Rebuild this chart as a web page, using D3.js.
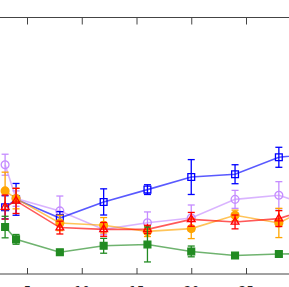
<!DOCTYPE html>
<html>
<head>
<meta charset="utf-8">
<script src="https://cdn.jsdelivr.net/npm/d3@7"></script>
<style>
  body { margin: 0; background: #fff; }
  svg { display: block; }
  .axis path, .axis line { stroke: #444; }
  .axis text { font-family: "DejaVu Sans", sans-serif; font-size: 12px; fill: #222; }
</style>
</head>
<body>
<div id="chart"></div>
<script>
var steps = [3, 4, 8, 12, 16, 20, 24, 28, 32];
var xTicks = [5, 10, 15, 20, 25];

var blueVals   = [26.0, 29.1, 21.8, 28.1, 32.9, 37.8, 38.9, 45.5, 47.2];
var blueErr    = [4.5, 6.2, 2.5, 5.1, 1.9, 6.8, 3.7, 3.9, 4.0];
var purpleVals = [42.6, 29.4, 24.6, 17.4, 20.0, 21.8, 29.1, 30.7, 25.0];
var purpleErr  = [4.1, 3.0, 5.8, 2.0, 4.2, 5.1, 3.5, 5.3, 4.0];
var orangeVals = [32.4, 29.4, 19.9, 19.0, 16.6, 17.7, 22.9, 19.9, 28.5];
var orangeErr  = [7.3, 4.0, 3.0, 3.0, 2.0, 3.9, 2.0, 5.7, 4.0];
var redVals    = [26.1, 28.5, 18.1, 17.4, 17.4, 21.3, 20.3, 21.6, 26.9];
var redErr     = [4.7, 4.9, 2.5, 2.7, 1.6, 2.7, 2.7, 3.1, 3.0];
var greenVals  = [18.3, 13.5, 8.5, 11.0, 11.5, 8.8, 7.2, 7.8, 8.0];
var greenErr   = [4.2, 1.9, 1.0, 2.9, 6.8, 2.1, 1.0, 1.0, 1.0];

var series = [
  {name: "purple", color: "#c58cff", marker: "circle", fill: false, vals: purpleVals, err: purpleErr},
  {name: "blue",   color: "#0000ff", marker: "square", fill: false, vals: blueVals,   err: blueErr},
  {name: "orange", color: "#ffa500", marker: "circle", fill: true,  vals: orangeVals, err: orangeErr},
  {name: "red",    color: "#ff0000", marker: "triangle", fill: false, vals: redVals,  err: redErr},
  {name: "green",  color: "#228b22", marker: "square", fill: true,  vals: greenVals,  err: greenErr}
];

var margin = {top: 17.5, left: -27.75},
    width = 35 * 10.95,
    height = 256.5;

var svg = d3.select("#chart").append("svg")
  .attr("width", 289)
  .attr("height", 287)
  .append("g")
  .attr("transform", "translate(" + margin.left + "," + margin.top + ")");

var x = d3.scaleLinear().domain([0, 35]).range([0, width]);
var y = d3.scaleLinear().domain([0, 100]).range([height, 0]);

// frame
svg.append("rect")
  .attr("x", 0).attr("y", 0)
  .attr("width", width).attr("height", height)
  .attr("fill", "none")
  .attr("stroke", "#444")
  .attr("stroke-width", 1);

svg.append("g")
  .attr("class", "x axis")
  .attr("transform", "translate(0," + height + ")")
  .call(d3.axisBottom(x).tickValues(xTicks).tickSize(-6).tickPadding(12).tickFormat(d3.format("d")))
  .call(g => g.select(".domain").remove());

svg.append("g")
  .attr("class", "x axis")
  .call(d3.axisTop(x).tickValues(xTicks).tickSize(-7).tickFormat(""))
  .call(g => g.select(".domain").remove());

var line = d3.line()
  .x(function(d) { return x(d.step); })
  .y(function(d) { return y(d.v); });

series.forEach(function(s) {
  var pts = steps.map(function(st, i) { return {step: st, v: s.vals[i], e: s.err[i]}; });
  var g = svg.append("g").attr("class", "series " + s.name);

  g.append("path")
    .datum(pts)
    .attr("d", line)
    .attr("fill", "none")
    .attr("stroke", s.color)
    .attr("stroke-opacity", 0.65)
    .attr("stroke-width", 1.6);

  var eb = g.selectAll(".err").data(pts).enter().append("g")
    .attr("stroke", s.color)
    .attr("stroke-width", 1.3);
  eb.append("line")
    .attr("x1", d => x(d.step)).attr("x2", d => x(d.step))
    .attr("y1", d => y(d.v + d.e)).attr("y2", d => y(d.v - d.e));
  eb.append("line")
    .attr("x1", d => x(d.step) - 3.5).attr("x2", d => x(d.step) + 3.5)
    .attr("y1", d => y(d.v + d.e)).attr("y2", d => y(d.v + d.e));
  eb.append("line")
    .attr("x1", d => x(d.step) - 3.5).attr("x2", d => x(d.step) + 3.5)
    .attr("y1", d => y(d.v - d.e)).attr("y2", d => y(d.v - d.e));

  var sym = s.marker == "square" ? d3.symbolSquare : (s.marker == "triangle" ? d3.symbolTriangle : d3.symbolCircle);
  var size = s.marker == "circle" ? 48 : (s.marker == "triangle" ? 26 : 46);
  g.selectAll(".mk").data(pts).enter().append("path")
    .attr("d", d3.symbol().type(sym).size(size))
    .attr("transform", d => "translate(" + x(d.step) + "," + y(d.v) + ")")
    .attr("fill", s.fill ? s.color : "none")
    .attr("stroke", s.color)
    .attr("stroke-width", 1.3);
});
</script>
</body>
</html>
